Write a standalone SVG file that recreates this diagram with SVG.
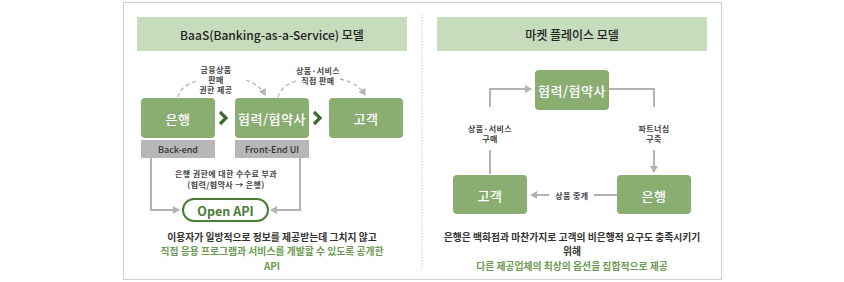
<svg xmlns="http://www.w3.org/2000/svg" width="844" height="282" viewBox="0 0 844 282">
<defs>
<style>
text{font-family:"Noto Sans CJK KR","Noto Sans",sans-serif;text-anchor:middle;dominant-baseline:central}
.hdr{fill:#c7dbbd}
.hdrt{font-size:12px;fill:#222;font-weight:500}
.node{fill:#8aae72}
.nt{font-size:13px;fill:#fff;font-weight:500;letter-spacing:0.5px}
.gbox{fill:#b7b7b7}
.gt{font-size:9px;fill:#333;font-weight:500}
.lbl{font-size:8px;fill:#444;font-weight:700;letter-spacing:0.4px}
.desc{font-size:9.8px;fill:#333;font-weight:700}
.descg{font-size:9.8px;fill:#6c9a52;font-weight:700}
.dash{fill:none;stroke:#b3b3b3;stroke-width:1.3;stroke-dasharray:4 3}
.line{fill:none;stroke:#b3b3b3;stroke-width:2}
.chev{fill:none;stroke:#3d6b2e;stroke-width:3.2}
</style>
<marker id="ah" markerWidth="8" markerHeight="8" refX="6" refY="4" orient="auto" markerUnits="userSpaceOnUse">
<path d="M0,0 L7,4 L0,8 z" fill="#b3b3b3"/>
</marker>
</defs>
<rect x="123.5" y="2.5" width="598" height="277" fill="#fff" stroke="#cfcfcf" stroke-width="1"/>
<line x1="422" y1="14" x2="422" y2="270" stroke="#cfcfcf" stroke-width="1" stroke-dasharray="1.5 1.5"/>

<g id="header-left"><rect class="hdr" x="137" y="17" width="270" height="34"/><text class="hdrt" x="272" y="34">BaaS(Banking-as-a-Service) 모델</text></g>
<g id="header-right"><rect class="hdr" x="437" y="17" width="270" height="34"/><text class="hdrt" x="572" y="34">마켓 플레이스 모델</text></g>

<g id="connectors">
<path class="dash" d="M178,97 Q180,86 197,81"/>
<path class="dash" d="M246,80 Q260,85 265,95" marker-end="url(#ah)"/>
<path class="dash" d="M278,97 Q281,86 296,81"/>
<path class="dash" d="M340,79 Q358,83 365,95" marker-end="url(#ah)"/>
<path class="chev" d="M220,112 L226,118 L220,124"/>
<path class="chev" d="M314,112 L320,118 L314,124"/>
<path class="line" d="M151,158 V210 H179" marker-end="url(#ah)"/>
<path class="line" d="M300,158 V210 H271" marker-end="url(#ah)"/>
<path class="line" d="M490,107 V89 H531" marker-end="url(#ah)"/>
<path class="line" d="M490,150 V174"/>
<path class="line" d="M609,89 H654 V107"/>
<path class="line" d="M654,150 V172" marker-end="url(#ah)"/>
<path class="line" d="M617,195 H594"/>
<path class="line" d="M549,195 H531" marker-end="url(#ah)"/>
</g>

<g id="label-left1"><text class="lbl" x="216" y="69">금융상품</text><text class="lbl" x="216" y="79">판매</text><text class="lbl" x="216" y="89">권한 제공</text></g>
<g id="label-left2"><text class="lbl" x="318" y="70">상품·서비스</text><text class="lbl" x="318" y="80">직접 판매</text></g>

<g id="bank-l"><rect class="node" x="141" y="98" width="74" height="40" rx="4"/><text class="nt" x="178" y="118">은행</text></g>
<g id="partner-l"><rect class="node" x="235" y="98" width="74" height="40" rx="4"/><text class="nt" x="272" y="118">협력/협약사</text></g>
<g id="customer-l"><rect class="node" x="329" y="98" width="74" height="40" rx="4"/><text class="nt" x="366" y="118">고객</text></g>
<g id="backend"><rect class="gbox" x="141" y="140" width="74" height="18"/><text class="gt" x="178" y="149">Back-end</text></g>
<g id="frontend"><rect class="gbox" x="235" y="140" width="74" height="18"/><text class="gt" x="272" y="149">Front-End UI</text></g>
<g id="fee-label"><text class="lbl" x="226" y="173">은행 권한에 대한 수수료 부과</text><text class="lbl" x="226" y="184">(협력/협약사 → 은행)</text></g>
<g id="openapi"><rect x="183" y="199" width="85" height="22" rx="11" fill="#fff" stroke="#4a7d38" stroke-width="2"/><text x="225.5" y="210" style="font-size:12.5px;fill:#4a7d38;font-weight:700">Open API</text></g>
<g id="desc-left"><text class="desc" x="272" y="236.5">이용자가 일방적으로 정보를 제공받는데 그치지 않고</text><text class="descg" x="272" y="250.5">직접 응용 프로그램과 서비스를 개발할 수 있도록 공개한</text><text class="descg" x="272" y="266">API</text></g>

<g id="partner-r"><rect class="node" x="535" y="70" width="74" height="40" rx="4"/><text class="nt" x="572" y="90">협력/협약사</text></g>
<g id="customer-r"><rect class="node" x="453" y="175" width="74" height="39" rx="4"/><text class="nt" x="490" y="195">고객</text></g>
<g id="bank-r"><rect class="node" x="617" y="175" width="74" height="39" rx="4"/><text class="nt" x="654" y="195">은행</text></g>
<g id="label-r1"><text class="lbl" x="490" y="128">상품·서비스</text><text class="lbl" x="490" y="138">구매</text></g>
<g id="label-r2"><text class="lbl" x="654" y="128">파트너십</text><text class="lbl" x="654" y="138">구축</text></g>
<g id="label-r3"><text class="lbl" x="572" y="195">상품 중개</text></g>
<g id="desc-right"><text class="desc" x="572" y="236.5">은행은 백화점과 마찬가지로 고객의 비은행적 요구도 충족시키기</text><text class="desc" x="572" y="250.5">위해</text><text class="descg" x="572" y="266">다른 제공업체의 최상의 옵션을 집합적으로 제공</text></g>
</svg>
